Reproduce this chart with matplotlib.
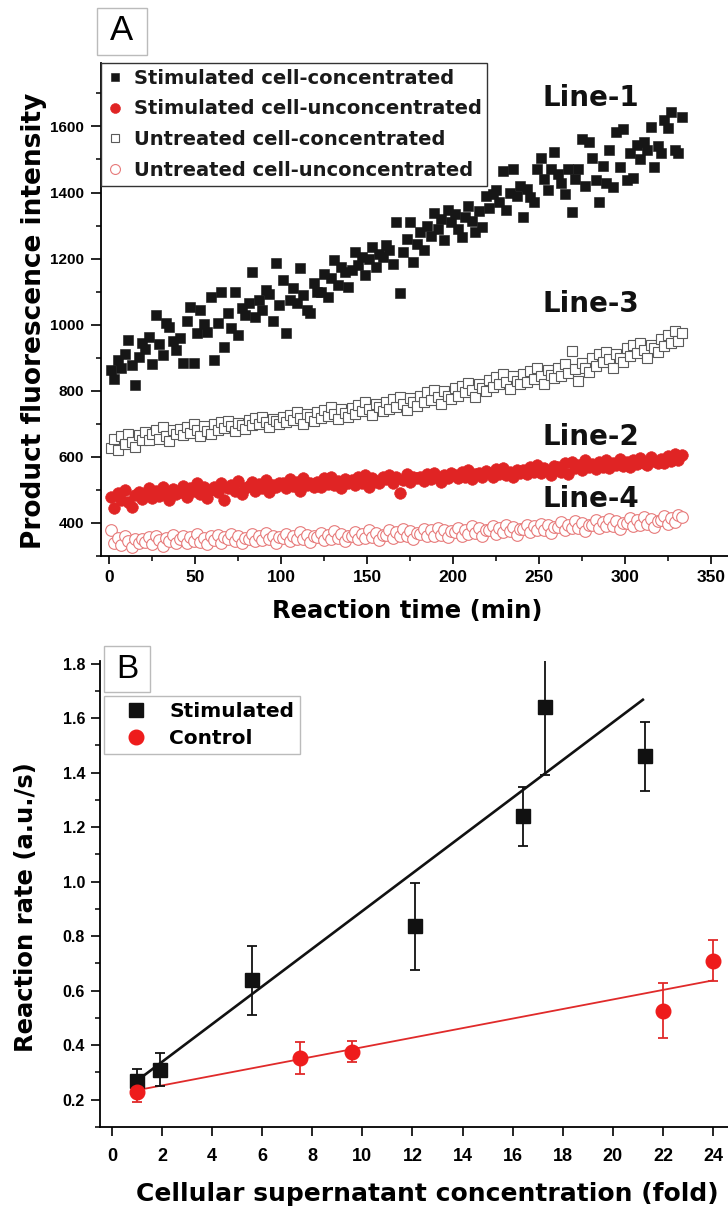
import numpy as np
import matplotlib.pyplot as plt
from matplotlib.patches import Rectangle
from matplotlib.ticker import MultipleLocator

plt.rcParams['font.family'] = ['DejaVu Sans']
plt.rcParams['font.weight'] = 'bold'
plt.rcParams['axes.labelweight'] = 'bold'

# ---- panel A: product fluorescence vs reaction time (sampled every 2 min)
t = np.arange(1, 335, 2)

line1 = [862, 835, 893, 868, 910, 955, 878, 818, 902, 945,
         925, 964, 880, 1030, 941, 909, 1006, 994, 950, 922,
         960, 885, 1012, 1055, 885, 976, 1045, 1003, 979, 1085,
         894, 1006, 1100, 933, 1036, 991, 1100, 970, 1052, 1030,
         1067, 1158, 1024, 1076, 1045, 1106, 1092, 1010, 1188, 1061,
         1136, 976, 1076, 1110, 1067, 1173, 1090, 1045, 1036, 1127,
         1098, 1100, 1152, 1085, 1140, 1197, 1120, 1176, 1160, 1115,
         1167, 1221, 1180, 1206, 1150, 1198, 1236, 1175, 1215, 1206,
         1240, 1227, 1185, 1312, 1097, 1221, 1260, 1312, 1191, 1245,
         1280, 1227, 1300, 1267, 1339, 1290, 1320, 1255, 1348, 1310,
         1335, 1290, 1264, 1327, 1360, 1315, 1282, 1345, 1297, 1388,
         1352, 1395, 1409, 1370, 1464, 1348, 1400, 1470, 1388, 1420,
         1327, 1410, 1385, 1370, 1470, 1506, 1440, 1409, 1470, 1524,
         1455, 1430, 1395, 1470, 1342, 1440, 1470, 1561, 1420, 1552,
         1506, 1439, 1370, 1480, 1430, 1530, 1418, 1582, 1476, 1591,
         1439, 1521, 1445, 1545, 1500, 1552, 1530, 1597, 1476, 1540,
         1521, 1621, 1594, 1645, 1530, 1521, 1630]

line2 = [478, 445, 490, 470, 500, 462, 448, 485, 495, 472,
         488, 505, 475, 498, 482, 510, 492, 470, 502, 488,
         495, 512, 480, 505, 498, 520, 488, 508, 476, 500,
         510, 495, 522, 470, 505, 515, 498, 528, 488, 506,
         512, 525, 498, 518, 506, 530, 495, 515, 508, 520,
         520, 505, 532, 512, 525, 498, 535, 515, 522, 508,
         525, 510, 535, 518, 540, 515, 528, 505, 532, 520,
         530, 515, 540, 522, 545, 510, 535, 528, 520, 538,
         532, 545, 520, 538, 491, 530, 548, 525, 540, 535,
         540, 528, 548, 532, 552, 538, 525, 545, 535, 550,
         545, 535, 555, 540, 560, 532, 548, 552, 538, 558,
         552, 540, 562, 548, 565, 545, 555, 538, 560, 550,
         560, 548, 570, 555, 575, 550, 565, 558, 545, 572,
         570, 555, 580, 548, 585, 565, 575, 560, 590, 568,
         578, 562, 585, 570, 590, 565, 582, 575, 595, 572,
         585, 570, 592, 578, 598, 582, 575, 600, 588, 580,
         595, 580, 602, 588, 608, 592, 605]

line3 = [628, 655, 622, 662, 640, 670, 645, 630, 665, 652,
         675, 650, 668, 682, 655, 690, 662, 648, 680, 670,
         685, 665, 690, 672, 698, 680, 662, 694, 678, 670,
         698, 680, 705, 688, 710, 692, 678, 702, 695, 685,
         712, 695, 718, 700, 722, 705, 690, 715, 708, 698,
         722, 705, 728, 712, 735, 718, 700, 730, 720, 710,
         735, 718, 742, 725, 750, 730, 715, 745, 732, 722,
         748, 730, 758, 740, 765, 745, 728, 760, 750, 738,
         765, 745, 775, 752, 782, 760, 742, 778, 765, 755,
         785, 765, 795, 772, 802, 780, 760, 798, 785, 775,
         808, 785, 815, 795, 825, 802, 780, 820, 808, 798,
         832, 810, 842, 820, 850, 828, 805, 845, 830, 822,
         850, 828, 860, 835, 868, 845, 822, 862, 848, 840,
         870, 845, 880, 855, 920, 865, 830, 885, 868, 858,
         900, 875, 910, 888, 918, 895, 870, 912, 898, 888,
         928, 905, 938, 915, 945, 922, 900, 940, 928, 918,
         958, 935, 968, 945, 980, 952, 975]

line4 = [378, 340, 355, 332, 360, 345, 328, 352, 338, 350,
         342, 358, 335, 362, 348, 330, 355, 345, 365, 340,
         350, 362, 338, 358, 345, 368, 342, 355, 335, 360,
         348, 365, 340, 358, 350, 368, 345, 360, 338, 355,
         352, 366, 345, 360, 348, 370, 350, 362, 340, 358,
         355, 368, 345, 362, 350, 372, 352, 365, 342, 360,
         358, 370, 348, 365, 352, 375, 355, 368, 345, 362,
         360, 372, 350, 368, 355, 378, 358, 370, 348, 365,
         365, 378, 355, 372, 360, 382, 362, 375, 352, 370,
         368, 382, 360, 378, 362, 385, 365, 380, 358, 375,
         372, 385, 362, 380, 368, 390, 370, 384, 362, 378,
         378, 390, 368, 385, 372, 395, 375, 388, 365, 382,
         382, 395, 372, 390, 378, 398, 380, 395, 370, 388,
         388, 402, 378, 395, 385, 405, 385, 400, 375, 395,
         395, 408, 385, 402, 390, 412, 392, 405, 382, 400,
         400, 415, 390, 408, 395, 418, 398, 412, 388, 405,
         408, 420, 398, 415, 402, 425, 418]

# ---- panel B: reaction rate vs supernatant concentration
fold_stim = [1, 1.9, 5.6, 12.1, 16.4, 17.3, 21.3]
rate_stim = [0.267, 0.31, 0.638, 0.836, 1.24, 1.64, 1.46]
err_stim = [0.045, 0.06, 0.127, 0.16, 0.108, 0.25, 0.127]
fold_ctrl = [1, 7.5, 9.6, 22, 24]
rate_ctrl = [0.227, 0.353, 0.377, 0.527, 0.71]
err_ctrl = [0.036, 0.06, 0.037, 0.1, 0.075]
fit_stim = (0.0692, 0.2008)   # slope, intercept of the drawn fit
fit_ctrl = (0.01752, 0.2175)
fit_stim_x = [1, 21.2]
fit_ctrl_x = [1, 24]

W, H = 728, 1207
fig = plt.figure(figsize=(W / 100, H / 100), dpi=100)

# ================= A =================
axA = fig.add_axes([100.7 / W, 1 - 556 / H, (W - 100.7) / W, (556 - 63) / H])
axA.plot(t, line1, 's', ls='none', ms=7.3, color='#161616', mew=0.4,
         label='Stimulated cell-concentrated', zorder=3)
axA.plot(t, line2, 'o', ls='none', ms=8.4, color='#e02424', mew=0.4,
         label='Stimulated cell-unconcentrated', zorder=3)
axA.plot(t, line3, 's', ls='none', ms=7.3, mfc='white', mec='#5a5a5a', mew=0.8,
         label='Untreated cell-concentrated', zorder=2)
axA.plot(t, line4, 'o', ls='none', ms=8.4, mfc='white', mec='#e77a7a', mew=0.8,
         label='Untreated cell-unconcentrated', zorder=2)

axA.set_xlim(-5, 360)
axA.set_ylim(300, 1792)
axA.xaxis.set_major_locator(MultipleLocator(50))
axA.xaxis.set_minor_locator(MultipleLocator(25))
axA.yaxis.set_major_locator(MultipleLocator(200))
axA.yaxis.set_minor_locator(MultipleLocator(100))
axA.set_yticks([400, 600, 800, 1000, 1200, 1400, 1600])
for s in ('top', 'right'):
    axA.spines[s].set_visible(False)
for s in ('left', 'bottom'):
    axA.spines[s].set_linewidth(1.3)
axA.tick_params(axis='x', which='major', length=5.5, width=1.2, pad=4.5,
                labelsize=12.5, labelfontfamily='Liberation Sans')
axA.tick_params(axis='y', which='major', length=7, width=1.2, pad=5,
                labelsize=11, labelfontfamily='Liberation Sans')
axA.tick_params(which='minor', length=3.5, width=1.1)

axA.set_xlabel('Reaction time (min)', fontsize=17.5)
axA.xaxis.set_label_coords(0.488, -0.087)
axA.set_ylabel('Product fluorescence intensity', fontsize=19)
axA.yaxis.set_label_coords(-0.086, 0.478)

for lbl, yv in [('Line-1', 1661), ('Line-3', 1039), ('Line-2', 636), ('Line-4', 448)]:
    axA.text(252.3, yv, lbl, fontsize=20, ha='left', va='baseline', color='#111111')

legA = axA.legend(loc='upper left', bbox_to_anchor=(0, 1), borderaxespad=0,
                  fontsize=14, handlelength=0.9, handletextpad=0.5, borderpad=0.3,
                  labelspacing=0.6, fancybox=False, framealpha=1, markerscale=0.85)
legA.get_frame().set_edgecolor('#333333')
legA.get_frame().set_linewidth(1.0)
for txt in legA.get_texts():
    txt.set_color('#1a1a1a')

fig.add_artist(Rectangle((97 / W, 1 - 55 / H), 50 / W, 47 / H, transform=fig.transFigure,
                         fill=False, edgecolor='#bbbbbb', lw=1.0))
fig.text(122 / W, 1 - 31 / H, 'A', fontsize=25, fontweight='normal',
         family='Liberation Sans', ha='center', va='center')

# ================= B =================
axB = fig.add_axes([100 / W, 1 - 1127 / H, (W - 100) / W, (1127 - 661) / H])
xs = np.array(fit_stim_x)
axB.plot(xs, fit_stim[0] * xs + fit_stim[1], color='#111111', lw=1.9, zorder=2)
xc = np.array(fit_ctrl_x)
axB.plot(xc, fit_ctrl[0] * xc + fit_ctrl[1], color='#e02a2a', lw=1.3, zorder=2)

axB.errorbar(fold_stim, rate_stim, yerr=err_stim, fmt='none', ecolor='#111111',
             elinewidth=1.3, capsize=3.5, capthick=1.3, zorder=3)
axB.errorbar(fold_ctrl, rate_ctrl, yerr=err_ctrl, fmt='none', ecolor='#e02a2a',
             elinewidth=1.3, capsize=3.5, capthick=1.3, zorder=3)
axB.plot(fold_stim, rate_stim, 's', ls='none', ms=10, color='#111111',
         label='Stimulated', zorder=4)
axB.plot(fold_ctrl, rate_ctrl, 'o', ls='none', ms=10.5, color='#ee1c1c',
         label='Control', zorder=4)

axB.set_xlim(-0.48, 24.6)
axB.set_ylim(0.1, 1.81)
axB.xaxis.set_major_locator(MultipleLocator(2))
axB.yaxis.set_major_locator(MultipleLocator(0.2))
axB.yaxis.set_minor_locator(MultipleLocator(0.1))
axB.set_yticks([0.2, 0.4, 0.6, 0.8, 1.0, 1.2, 1.4, 1.6, 1.8])
axB.yaxis.set_major_formatter(plt.FormatStrFormatter('%.1f'))
for s in ('top', 'right'):
    axB.spines[s].set_visible(False)
for s in ('left', 'bottom'):
    axB.spines[s].set_linewidth(1.3)
axB.tick_params(axis='x', which='major', length=6.5, width=1.2, pad=8.5,
                labelsize=13, labelfontfamily='Liberation Sans')
axB.tick_params(axis='y', which='major', length=6.5, width=1.2, pad=4.3,
                labelsize=11.5, labelfontfamily='Liberation Sans')
axB.tick_params(which='minor', length=3.5, width=1.1)

axB.set_xlabel('Cellular supernatant concentration (fold)', fontsize=18)
axB.xaxis.set_label_coords(0.521, -0.117)
axB.set_ylabel('Reaction rate (a.u./s)', fontsize=17.5)
axB.yaxis.set_label_coords(-0.099, 0.473)

legB = axB.legend(loc='upper left', bbox_to_anchor=(4 / 628, (1127 - 696) / 466),
                  borderaxespad=0, fontsize=14.5, handlelength=2.6, handletextpad=0.35,
                  borderpad=0.3, labelspacing=0.4, fancybox=False, framealpha=1)
legB.get_frame().set_edgecolor('#bbbbbb')
legB.get_frame().set_linewidth(1.0)

fig.add_artist(Rectangle((104 / W, 1 - 692 / H), 46 / W, 46 / H, transform=fig.transFigure,
                         fill=True, facecolor='white', edgecolor='#bbbbbb', lw=1.0, zorder=5))
fig.text(127 / W, 1 - 669 / H, 'B', fontsize=24, fontweight='normal',
         family='Liberation Sans', ha='center', va='center', zorder=6)

fig.savefig('out.png', dpi=100)
